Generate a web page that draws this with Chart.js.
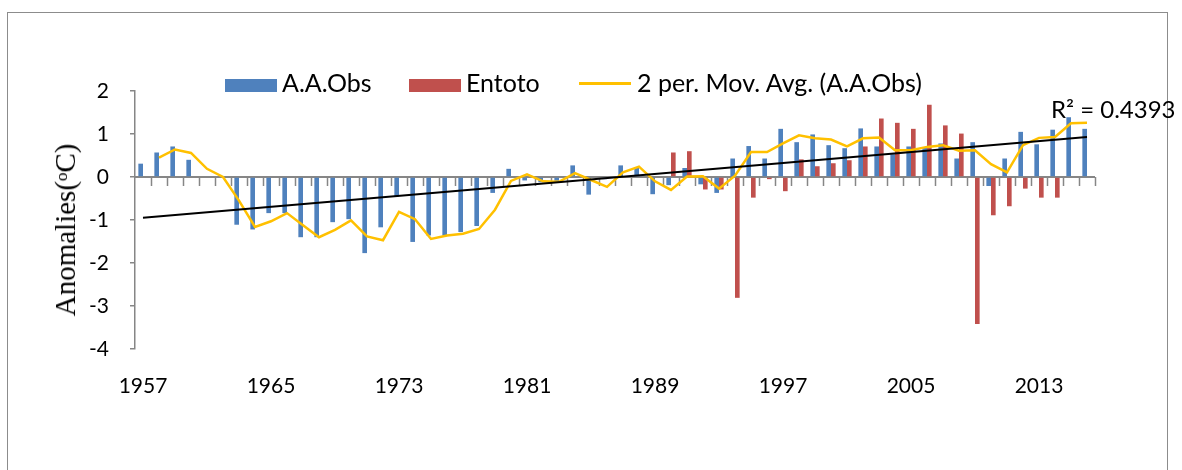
<!DOCTYPE html>
<html>
<head>
<meta charset="utf-8">
<script src="https://cdn.jsdelivr.net/npm/chart.js@4"></script>
<style>
  body { margin: 0; background: #fff; }
  #wrap { position: relative; width: 1182px; height: 470px; overflow: hidden; }
  #frame { position: absolute; left: 7px; top: 12px; width: 1161px; height: 480px; border: 1px solid #8c8c8c; box-sizing: border-box; }
  canvas { position: absolute; left: 0; top: 0; }
  .lg { position: absolute; font-family: Lato, sans-serif; font-size: 25px; line-height: 30px; color: #000; white-space: nowrap; }
  .box { position: absolute; height: 13px; width: 52px; }
  #ytitle { position: absolute; left: 65px; top: 230px; transform: translate(-50%, -50%) rotate(-90deg);
            font-family: 'Liberation Serif', serif; font-size: 29px; line-height: 32px; white-space: nowrap; color: #000; }
</style>
</head>
<body>
<div id="wrap">
  <div id="frame"></div>
  <canvas id="chart" width="1182" height="470"></canvas>
  <div id="ytitle">Anomalies(ᵒC)</div>
  <div class="box" style="left:225px;top:79px;background:#4F81BD"></div>
  <div class="lg" style="left:282px;top:67px">A.A.Obs</div>
  <div class="box" style="left:409px;top:79px;background:#C0504D"></div>
  <div class="lg" style="left:466px;top:67px">Entoto</div>
  <div style="position:absolute;left:579px;top:82px;width:52px;height:3px;background:#FFC000"></div>
  <div class="lg" style="left:637px;top:67px">2 per. Mov. Avg. (A.A.Obs)</div>
  <div class="lg" style="left:1051px;top:94px;font-size:24px">R² = 0.4393</div>
</div>
<script>
// years 1957 - 2016
const years = [];
for (let y = 1957; y <= 2016; y++) years.push(String(y));

// A.A.Obs anomalies (blue bars)
const aaObs = [
  0.31, 0.57, 0.71, 0.40, 0, 0, -1.11, -1.22, -0.84, -0.84,
  -1.40, -1.40, -1.05, -0.98, -1.77, -1.17, -0.45, -1.51, -1.36, -1.36,
  -1.28, -1.14, -0.37, 0.19, -0.08, -0.12, -0.09, 0.27, -0.41, -0.05,
  0.27, 0.21, -0.40, -0.19, 0.21, -0.17, -0.37, 0.43, 0.72, 0.43,
  1.12, 0.81, 0.99, 0.74, 0.67, 1.13, 0.71, 0.53, 0.71, 0.69,
  0.78, 0.43, 0.81, -0.21, 0.43, 1.05, 0.76, 1.10, 1.39, 1.12
];

// Entoto anomalies (red bars), starts 1990
const entoto = [
  null, null, null, null, null, null, null, null, null, null,
  null, null, null, null, null, null, null, null, null, null,
  null, null, null, null, null, null, null, null, null, null,
  null, null, null, 0.57, 0.60, -0.29, -0.29, -2.81, -0.48, -0.05,
  -0.33, 0.41, 0.25, 0.32, 0.39, 0.71, 1.36, 1.26, 1.12, 1.68,
  1.20, 1.01, -3.42, -0.89, -0.68, -0.27, -0.48, -0.48, null, null
];

// 2 per. moving average
const movAvg = [
  null, 0.45, 0.64, 0.56, 0.19, 0.00, -0.55, -1.16, -1.03, -0.84,
  -1.12, -1.40, -1.23, -1.01, -1.38, -1.47, -0.81, -0.98, -1.44, -1.36,
  -1.32, -1.21, -0.76, -0.09, 0.06, -0.10, -0.11, 0.09, -0.07, -0.23,
  0.11, 0.24, -0.10, -0.30, 0.01, 0.02, -0.27, 0.03, 0.58, 0.58,
  0.78, 0.97, 0.90, 0.87, 0.71, 0.90, 0.92, 0.62, 0.62, 0.70,
  0.74, 0.61, 0.62, 0.30, 0.11, 0.74, 0.91, 0.93, 1.25, 1.26
];

// linear trend, first and last year
const trendEnds = [-0.95, 0.93];

const trend = years.map((y, i) => i === 0 ? trendEnds[0] : (i === years.length - 1 ? trendEnds[1] : null));

// zero axis with the little category ticks hanging under it
const zeroAxis = {
  id: 'zeroAxis',
  beforeDatasetsDraw(chart) {
    const { ctx, chartArea: a, scales: { x, y } } = chart;
    const y0 = y.getPixelForValue(0);
    const step = x.getPixelForValue(1) - x.getPixelForValue(0);
    ctx.save();
    ctx.strokeStyle = '#868686';
    ctx.lineWidth = 1.5;
    ctx.beginPath();
    for (let i = 1; i <= years.length; i++) {
      const px = Math.round(x.getPixelForValue(i) - step / 2) + 0.5;
      ctx.moveTo(px, y0);
      ctx.lineTo(px, y0 + 9);
    }
    ctx.stroke();
    ctx.lineWidth = 2;
    ctx.beginPath();
    ctx.moveTo(a.left, y0);
    ctx.lineTo(a.right, y0);
    ctx.stroke();
    ctx.restore();
  }
};

new Chart(document.getElementById('chart').getContext('2d'), {
  data: {
    labels: years,
    datasets: [
      { type: 'line', label: 'Linear (A.A.Obs)', data: trend, borderColor: '#000', borderWidth: 2, pointRadius: 0, spanGaps: true, order: 0 },
      { type: 'line', label: '2 per. Mov. Avg. (A.A.Obs)', data: movAvg, borderColor: '#FFC000', borderWidth: 2.5, pointRadius: 0, tension: 0, order: 1 },
      { type: 'bar', label: 'A.A.Obs', data: aaObs, backgroundColor: '#4F81BD', categoryPercentage: 0.58, barPercentage: 1, order: 2 },
      { type: 'bar', label: 'Entoto', data: entoto, backgroundColor: '#C0504D', categoryPercentage: 0.58, barPercentage: 1, order: 3 }
    ]
  },
  options: {
    responsive: false,
    animation: false,
    layout: { padding: { left: 0, right: 87, top: 91, bottom: 0 } },
    plugins: { legend: { display: false }, tooltip: { enabled: false } },
    scales: {
      x: {
        grid: { display: false },
        border: { display: false },
        ticks: {
          autoSkip: false, maxRotation: 0, minRotation: 0, padding: 17,
          color: '#000', font: { family: 'Lato', size: 21 },
          callback: (v, i) => i % 8 === 0 ? years[i] : ''
        },
        afterFit: s => { s.height = 121; }
      },
      y: {
        min: -4, max: 2,
        ticks: { stepSize: 1, padding: 21, color: '#000', font: { family: 'Lato', size: 21 } },
        grid: { drawOnChartArea: false, tickLength: 5, color: '#868686', lineWidth: 1.5 },
        border: { color: '#868686', width: 1.5 },
        afterFit: s => { s.width = 135; }
      }
    }
  },
  plugins: [zeroAxis]
});
</script>
</body>
</html>
